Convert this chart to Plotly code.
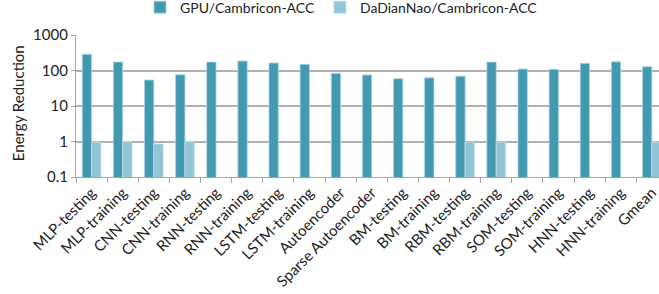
import plotly.graph_objects as go

categories = ["MLP-testing", "MLP-training", "CNN-testing", "CNN-training", "RNN-testing",
              "RNN-training", "LSTM-testing", "LSTM-training", "Autoencoder", "Sparse Autoencoder",
              "BM-testing", "BM-training", "RBM-testing", "RBM-training", "SOM-testing",
              "SOM-training", "HNN-testing", "HNN-training", "Gmean"]
gpu_vals = [286, 173, 54, 76, 173, 185, 163, 149, 83, 75, 59, 62, 69, 173, 110, 108, 159, 175, 128]
ddn_vals = [0.95, 1.0, 0.85, 1.0, None, None, None, None, None, None, None, None, 0.96, 0.96,
            None, None, None, None, 0.96]
y_ticks = [0.1, 1, 10, 100, 1000]
y_ticklabels = ["0.1", "1", "10", "100", "1000"]
y_title = "Energy Reduction"

FONT = "Lato"
fig = go.Figure()
fig.add_trace(go.Bar(x=categories, y=gpu_vals, name="GPU/Cambricon-ACC",
                     marker=dict(color="#4399B0", line=dict(color="#A9D6E3", width=0.8))))
fig.add_trace(go.Bar(x=categories, y=ddn_vals, name="DaDianNao/Cambricon-ACC",
                     marker=dict(color="#93C5D8", line=dict(color="#C2E0EA", width=0.8))))

fig.update_layout(
    width=659, height=294,
    margin=dict(l=76, r=0, t=35, b=117, autoexpand=False),
    paper_bgcolor="white", plot_bgcolor="white",
    barmode="group", bargap=0.4, bargroupgap=0,
    font=dict(family=FONT, size=15, color="#222222"),
    legend=dict(orientation="h", x=140 / 659, xanchor="left", xref="container",
                y=1.306, yanchor="top",
                font=dict(size=14, family=FONT, color="#222222"),
                itemwidth=30, tracegroupgap=0),
    showlegend=True,
)
fig.add_annotation(text=y_title, textangle=-90, showarrow=False,
                   xref="paper", x=-(76 - 18) / 583, xanchor="center",
                   yref="paper", y=0.52, yanchor="middle",
                   font=dict(size=15, family=FONT, color="#222222"))
fig.update_xaxes(
    type="category", range=[-0.5, 18.23],
    showline=True, linecolor="#A6A6A6", linewidth=1.2,
    ticks="outside", ticklen=5, tickcolor="#A6A6A6", tickson="boundaries",
    tickangle=-45, tickfont=dict(size=15, family=FONT, color="#222222"),
    showgrid=False,
)
fig.update_yaxes(
    type="log", range=[-1, 3],
    tickvals=y_ticks, ticktext=y_ticklabels,
    showline=True, linecolor="#A6A6A6", linewidth=1.2,
    ticks="outside", ticklen=4, tickcolor="#A6A6A6",
    showgrid=True, gridcolor="#B0B0B0", gridwidth=1.5,
    tickfont=dict(size=15, family=FONT, color="#222222"),
    zeroline=False,
)
post = "document.body.style.margin='0px';"
fig.write_html("out.html", post_script=post, config={"displayModeBar": False})
